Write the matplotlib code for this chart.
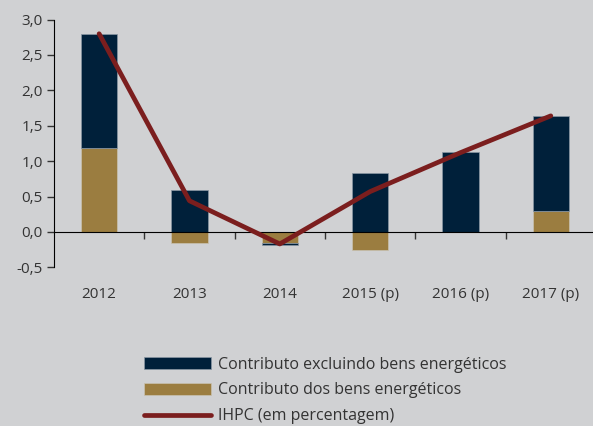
import matplotlib.pyplot as plt
import numpy as np

plt.rcParams['font.family'] = ['Open Sans', 'DejaVu Sans']

# data
years = ["2012", "2013", "2014", "2015 (p)", "2016 (p)", "2017 (p)"]
excl_energy = [1.60, 0.59, -0.03, 0.83, 1.13, 1.34]
energy = [1.19, -0.16, -0.15, -0.26, 0.00, 0.30]
ihpc = [2.80, 0.44, -0.17, 0.57, 1.12, 1.64]

bg = '#d0d1d3'
navy = '#00203a'
gold = '#9b7d40'
red = '#7b1e1e'
txt = '#333333'

fig = plt.figure(figsize=(5.93, 4.26), dpi=100, facecolor=bg)
ax = fig.add_axes([0.091, 0.3725, 0.914, 0.5815], facecolor=bg)

x = np.arange(len(years))
excl = np.array(excl_energy)
en = np.array(energy)
# stack each series on the same-sign side of the energy bar
base_excl = np.where(np.sign(excl) == np.sign(en), en, 0)

b_en = ax.bar(x, en, width=0.4, color=gold, edgecolor='#c9c2b0', linewidth=0.5, zorder=2)
b_ex = ax.bar(x, excl, width=0.4, bottom=base_excl, color=navy, edgecolor='#8a97a3',
              linewidth=0.5, zorder=2)
ln, = ax.plot(x, ihpc, color=red, linewidth=3.4, solid_capstyle='round', zorder=3)

ax.set_xlim(-0.5, 5.5)
ax.set_ylim(-0.5, 3.0)
yt = np.arange(-0.5, 3.01, 0.5)
ax.set_yticks(yt)
ax.set_yticklabels([f"{v:.1f}".replace('.', ',') for v in yt], fontsize=11, color=txt)
ax.tick_params(axis='y', length=5, width=1, color=txt, pad=3)

for s in ['top', 'right']:
    ax.spines[s].set_visible(False)
ax.spines['left'].set_color('black')
ax.spines['bottom'].set_position(('data', 0))
ax.spines['bottom'].set_color('black')
ax.spines['bottom'].set_zorder(2.5)

ax.set_xticks(x)
ax.set_xticklabels(years, fontsize=11, color=txt)
ax.set_xticks(np.arange(0.5, 5.6, 1), minor=True)
ax.tick_params(axis='x', which='major', length=0, pad=40)
ax.tick_params(axis='x', which='minor', length=5, width=1, color=txt)

fig.legend([b_ex, b_en, ln],
           ["Contributo excluindo bens energéticos", "Contributo dos bens energéticos",
            "IHPC (em percentagem)"],
           loc='upper left', bbox_to_anchor=(0.243, 0.163), frameon=False,
           borderpad=0, borderaxespad=0,
           fontsize=11.5, labelcolor=txt, handlelength=4.2, handleheight=0.8,
           handletextpad=0.4, labelspacing=0.62)

fig.savefig("out.png", dpi=100, facecolor=bg)
